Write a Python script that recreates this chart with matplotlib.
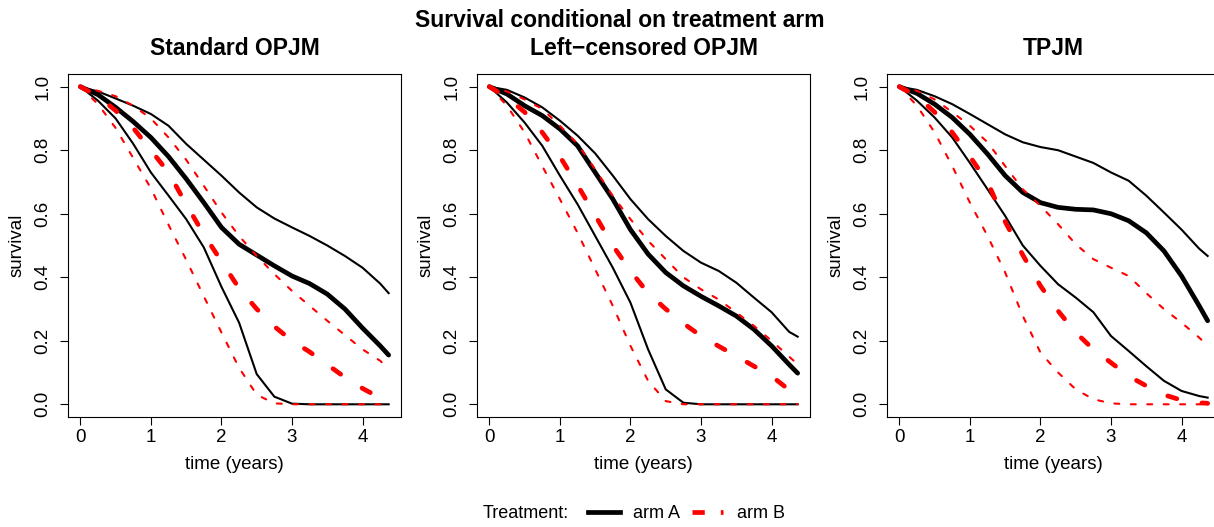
# Survival conditional on treatment arm, three joint models side by side
import matplotlib
matplotlib.use("Agg")
import matplotlib.pyplot as plt
from matplotlib.lines import Line2D

plt.rcParams['font.family'] = ['Liberation Sans', 'DejaVu Sans']
plt.rcParams['font.size'] = 13.5

# time grid (years)
time = [0, 0.25, 0.5, 0.75, 1.0, 1.25, 1.5, 1.75, 2.0, 2.25, 2.5, 2.75,
        3.0, 3.25, 3.5, 3.75, 4.0, 4.25, 4.37]

# Standard OPJM
std_A_mean = [1, 0.975, 0.935, 0.89, 0.84, 0.78, 0.71, 0.635, 0.557, 0.504, 0.47, 0.436,
              0.404, 0.38, 0.347, 0.30, 0.24, 0.184, 0.155]
std_A_hi = [1, 0.985, 0.963, 0.94, 0.914, 0.877, 0.82, 0.77, 0.72, 0.667, 0.62, 0.585,
            0.557, 0.53, 0.50, 0.467, 0.43, 0.38, 0.35]
std_A_lo = [1, 0.956, 0.90, 0.82, 0.73, 0.657, 0.583, 0.494, 0.37, 0.257, 0.095, 0.024,
            0.002, 0, 0, 0, 0, 0, 0]
std_B_mean = [1, 0.97, 0.925, 0.87, 0.80, 0.73, 0.63, 0.535, 0.45, 0.365, 0.30, 0.245,
              0.20, 0.165, 0.125, 0.085, 0.05, 0.02, 0.008]
std_B_hi = [1, 0.987, 0.97, 0.94, 0.90, 0.84, 0.77, 0.688, 0.604, 0.53, 0.467, 0.41,
            0.357, 0.31, 0.263, 0.218, 0.173, 0.137, 0.11]
std_B_lo = [1, 0.945, 0.87, 0.775, 0.68, 0.565, 0.455, 0.34, 0.226, 0.115, 0.03, 0.003,
            0, 0, 0, 0, 0, 0, 0]

# Left-censored OPJM
lc_A_mean = [1, 0.977, 0.94, 0.909, 0.867, 0.814, 0.73, 0.646, 0.55, 0.473, 0.415, 0.373,
             0.34, 0.31, 0.278, 0.236, 0.184, 0.125, 0.098]
lc_A_hi = [1, 0.99, 0.966, 0.935, 0.893, 0.846, 0.79, 0.72, 0.646, 0.583, 0.53, 0.483,
           0.446, 0.42, 0.383, 0.336, 0.29, 0.228, 0.213]
lc_A_lo = [1, 0.95, 0.887, 0.814, 0.72, 0.63, 0.53, 0.43, 0.32, 0.173, 0.047, 0.005,
           0, 0, 0, 0, 0, 0, 0]
lc_B_mean = [1, 0.966, 0.92, 0.856, 0.78, 0.69, 0.595, 0.50, 0.42, 0.35, 0.30, 0.255,
             0.215, 0.183, 0.152, 0.12, 0.089, 0.045, 0.03]
lc_B_hi = [1, 0.985, 0.96, 0.93, 0.877, 0.82, 0.74, 0.656, 0.583, 0.515, 0.457, 0.40,
           0.362, 0.33, 0.289, 0.247, 0.20, 0.15, 0.126]
lc_B_lo = [1, 0.94, 0.856, 0.75, 0.646, 0.54, 0.425, 0.31, 0.184, 0.074, 0.01, 0,
           0, 0, 0, 0, 0, 0, 0]

# TPJM
tp_A_mean = [1, 0.979, 0.945, 0.903, 0.85, 0.788, 0.72, 0.667, 0.635, 0.62, 0.614, 0.612,
             0.60, 0.578, 0.54, 0.483, 0.404, 0.31, 0.263]
tp_A_hi = [1, 0.99, 0.97, 0.945, 0.914, 0.882, 0.85, 0.825, 0.81, 0.80, 0.78, 0.76,
           0.73, 0.704, 0.657, 0.604, 0.55, 0.49, 0.467]
tp_A_lo = [1, 0.956, 0.903, 0.84, 0.76, 0.677, 0.593, 0.50, 0.436, 0.378, 0.336, 0.29,
           0.215, 0.168, 0.12, 0.074, 0.042, 0.026, 0.021]
tp_B_mean = [1, 0.97, 0.92, 0.856, 0.78, 0.70, 0.575, 0.47, 0.373, 0.294, 0.226, 0.173,
             0.131, 0.089, 0.058, 0.03, 0.013, 0.005, 0.003]
tp_B_hi = [1, 0.987, 0.96, 0.92, 0.877, 0.825, 0.75, 0.677, 0.625, 0.567, 0.504, 0.457,
           0.43, 0.404, 0.35, 0.30, 0.257, 0.21, 0.184]
tp_B_lo = [1, 0.94, 0.856, 0.75, 0.635, 0.53, 0.415, 0.278, 0.163, 0.10, 0.047, 0.016,
           0.003, 0, 0, 0, 0, 0, 0]

titles = ['Standard OPJM', 'Left\u2212censored OPJM', 'TPJM']
panels = [
    (std_A_mean, std_A_lo, std_A_hi, std_B_mean, std_B_lo, std_B_hi),
    (lc_A_mean, lc_A_lo, lc_A_hi, lc_B_mean, lc_B_lo, lc_B_hi),
    (tp_A_mean, tp_A_lo, tp_A_hi, tp_B_mean, tp_B_lo, tp_B_hi),
]

THICK = 3.4
THIN = 1.5
RED = '#ff0000'

fig = plt.figure(figsize=(12.14, 5.27), dpi=100)
lefts = [68, 477, 887]
for left, title, (a_m, a_lo, a_hi, b_m, b_lo, b_hi) in zip(lefts, titles, panels):
    ax = fig.add_axes([left / 1214, 110 / 527, 333 / 1214, 343 / 527])
    ax.plot(time, a_lo, color='black', lw=THIN)
    ax.plot(time, a_hi, color='black', lw=THIN)
    ax.plot(time, a_m, color='black', lw=THICK, solid_capstyle='round')
    ax.plot(time, b_lo, color=RED, lw=THIN, dashes=(2.4, 5.5), dash_capstyle='round')
    ax.plot(time, b_hi, color=RED, lw=THIN, dashes=(2.4, 5.5), dash_capstyle='round')
    ax.plot(time, b_m, color=RED, lw=THICK, dashes=(2.0, 5.4), dash_capstyle='round')

    ax.set_xlim(-0.175, 4.545)
    ax.set_ylim(-0.04, 1.04)
    ax.set_xticks([0, 1, 2, 3, 4])
    ax.set_yticks([0, 0.2, 0.4, 0.6, 0.8, 1.0])
    ax.set_yticklabels(['0.0', '0.2', '0.4', '0.6', '0.8', '1.0'], rotation=90, va='center')
    ax.tick_params(length=6, width=0.8, pad=3)
    ax.tick_params(axis='y', pad=6)
    for s in ax.spines.values():
        s.set_linewidth(0.8)
    ax.set_xlabel('time (years)', labelpad=7)
    ax.set_ylabel('survival', labelpad=6)
    ax.set_title(title, fontweight='bold', fontsize=16.5, pad=13.5)

fig.text(620 / 1214, 1 - 27 / 527, 'Survival conditional on treatment arm',
         ha='center', va='baseline', fontweight='bold', fontsize=16.5)

# legend along the bottom
fig.text(483 / 1214, 1 - 514 / 527, 'Treatment:', ha='left', va='center', fontsize=13)
handles = [Line2D([], [], color='black', lw=THICK),
           Line2D([], [], color=RED, lw=THICK, dashes=(2.6, 3.4))]
fig.legend(handles, ['arm A', 'arm B'], loc='center left',
           bbox_to_anchor=(588 / 1214, 1 - 514 / 527), ncol=2, frameon=False,
           fontsize=13, handlelength=1.75, handletextpad=0.75, columnspacing=0.65,
           borderpad=0, borderaxespad=0)

fig.savefig('out.png', dpi=100)
